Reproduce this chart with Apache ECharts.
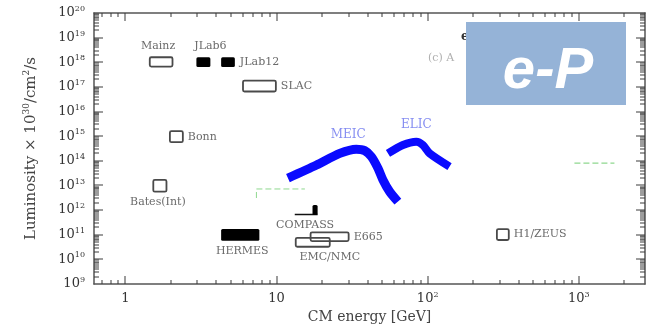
<!DOCTYPE html>
<html><head><meta charset="utf-8">
<script src="https://cdn.jsdelivr.net/npm/echarts@6/dist/echarts.min.js"></script>
<style>html,body{margin:0;padding:0;background:#fff}#c{width:650px;height:330px}</style>
</head><body><div id="c"></div>
<script>
// ---- axis ranges / ticks ----
const X_MIN = 0.62, X_MAX = 2740;
const Y_MIN = 1e9, Y_MAX = 1e20;
const xMajorTicks = [1, 10, 100, 1000];
const xMinorTicks = [0.7, 0.8, 0.9, 2, 3, 4, 5, 6, 7, 8, 9, 20, 30, 40, 50, 60, 70, 80, 90,
  200, 300, 400, 500, 600, 700, 800, 900, 2000];
const yMajorTicks = [1e9, 1e10, 1e11, 1e12, 1e13, 1e14, 1e15, 1e16, 1e17, 1e18, 1e19, 1e20];
const yMinorTicks = [];
for (let e = 9; e < 20; e++) for (let m = 2; m <= 9; m++) yMinorTicks.push(m * Math.pow(10, e));

// ---- experiments (boxes) ----
const expNames = ['Mainz', 'JLab6', 'JLab12', 'SLAC', 'Bonn', 'Bates(Int)', 'HERMES', 'COMPASS', 'E665', 'EMC/NMC', 'H1/ZEUS'];
const expEnergyLow  = [1.45, 2.95, 4.3, 6.0, 1.97, 1.53, 4.3, 17.3, 16.8, 13.4, 287];
const expEnergyHigh = [2.05, 3.65, 5.3, 9.9, 2.4, 1.87, 7.7, 18.7, 30, 22.5, 344];
const expLumiLow    = [6.7e17, 6.4e17, 6.4e17, 6.5e16, 5.7e14, 5.6e12, 5.7e10, 6.3e11, 5.5e10, 3.25e10, 6.1e10];
const expLumiHigh   = [1.6e18, 1.6e18, 1.6e18, 1.8e17, 1.6e15, 1.67e13, 1.7e11, 1.6e12, 1.25e11, 7.5e10, 1.7e11];

// COMPASS baseline
const compassLineEnergy = [13.2, 18.7];
const compassLineLumi = [6.6e11, 6.6e11];

// ---- MEIC / ELIC ----
const meicEnergy = [11.9, 18.4, 26.2, 33.7, 38.3, 42.4, 46.9, 50.6, 56.0, 63.5];
const meicLumi   = [2.0e13, 6.8e13, 2.0e14, 2.96e14, 2.6e14, 1.48e14, 5.0e13, 1.67e13, 5.6e12, 2.2e12];
const elicEnergy = [54.6, 68.6, 84.1, 92.9, 103, 139.5];
const elicLumi   = [2.0e14, 4.4e14, 6.0e14, 4.4e14, 2.0e14, 5.8e13];

// ---- faint green dashed traces ----
const greenAEnergy = [7.36, 7.36, 15.4];
const greenALumi   = [3.1e12, 7.2e12, 7.2e12];
const greenBEnergy = [935, 1720];
const greenBLumi   = [8.0e13, 8.0e13];

// ---- styles / layout (not data) ----
const expFilled = [false, true, true, false, false, false, true, true, false, false, false];
const expLabelLayout = [
  {pos: 'top', dx: -3}, {pos: 'top', dx: 7}, {pos: 'right'}, {pos: 'right'}, {pos: 'right'},
  {pos: 'bottom', dx: -2}, {pos: 'bottom', dx: 2}, {pos: 'bottom', dx: -10}, {pos: 'right'},
  {pos: 'bottom', dx: 17}, {pos: 'right'}
];

const SERIF = '"DejaVu Serif", "Liberation Serif", serif';
const AX = '#555';
const TICK = '#3a3a3a';
const MID_X = 30, MID_Y = 1e14; // interior anchor for the perpendicular coordinate of tick marks

function supLabel(v, isX) {
  const n = Math.round(Math.log10(v));
  if (isX && n === 0) return '{b|1}';
  if (isX && n === 1) return '{b|10}';
  return '{b|10}{s|' + n + '}';
}
const tickRich = {
  b: {fontFamily: SERIF, fontSize: 13, color: '#333', lineHeight: 16, verticalAlign: 'middle'},
  s: {fontFamily: SERIF, fontSize: 8, color: '#333', lineHeight: 9, verticalAlign: 'top'}
};

function mkX(pos, main) {
  return {
    type: 'log', logBase: 10, min: X_MIN, max: X_MAX, position: pos, gridIndex: 0,
    splitLine: {show: false}, minorTick: {show: false}, nameMoveOverlap: false,
    axisLine: {show: true, onZero: false, lineStyle: {color: AX, width: 1.5}},
    axisTick: {show: false},
    axisLabel: main ? {show: true, customValues: xMajorTicks, margin: 7,
      formatter: v => supLabel(v, true), rich: tickRich} : {show: false},
    name: main ? 'CM energy [GeV]' : '', nameLocation: 'middle', nameGap: 26,
    nameTextStyle: {fontFamily: SERIF, fontSize: 14, color: '#444'}
  };
}
function mkY(pos, main) {
  return {
    type: 'log', logBase: 10, min: Y_MIN, max: Y_MAX, position: pos, gridIndex: 0,
    splitLine: {show: false}, minorTick: {show: false}, nameMoveOverlap: false,
    axisLine: {show: true, onZero: false, lineStyle: {color: AX, width: 1.5}},
    axisTick: {show: false},
    axisLabel: main ? {show: true, customValues: yMajorTicks, margin: 9,
      formatter: v => supLabel(v, false), rich: tickRich} : {show: false},
    name: main ? '{n|Luminosity × 10}{s|30}{n|/cm}{s|2}{n|/s}' : '',
    nameLocation: 'middle', nameGap: 53,
    nameTextStyle: {rich: {
      n: {fontFamily: SERIF, fontSize: 15, color: '#444', lineHeight: 19, verticalAlign: 'middle'},
      s: {fontFamily: SERIF, fontSize: 9, color: '#444', lineHeight: 10, verticalAlign: 'top'}
    }}
  };
}

// tick marks as thin rects, placed with api.coord (interior anchors) and the grid rect
function tickSeries(vals, isX, len) {
  return {
    type: 'custom', xAxisIndex: 0, yAxisIndex: 0, z: 9, silent: true,
    data: vals.map(v => isX ? [v, MID_Y] : [MID_X, v]),
    encode: {x: 0, y: 1},
    renderItem: (params, api) => {
      const cs = params.coordSys;
      const p = api.coord([api.value(0), api.value(1)]);
      if (isX) {
        const x = Math.round(p[0]) - 0.5;
        return {type: 'group', children: [
          {type: 'rect', shape: {x: x, y: cs.y + cs.height - len, width: 1, height: len}, style: {fill: TICK}},
          {type: 'rect', shape: {x: x, y: cs.y, width: 1, height: len}, style: {fill: TICK}}
        ]};
      }
      const y = Math.round(p[1]) - 0.5;
      return {type: 'group', children: [
        {type: 'rect', shape: {x: cs.x, y: y, width: len, height: 1}, style: {fill: TICK}},
        {type: 'rect', shape: {x: cs.x + cs.width - len, y: y, width: len, height: 1}, style: {fill: TICK}}
      ]};
    }
  };
}

const chart = echarts.init(document.getElementById('c'), null, {renderer: 'canvas'});
chart.setOption({
  backgroundColor: '#fff',
  animation: false,
  grid: {left: 94, right: 5, top: 13, bottom: 46, containLabel: false, outerBoundsMode: 'none'},
  xAxis: [mkX('bottom', true), mkX('top', false)],
  yAxis: [mkY('left', true), mkY('right', false)],
  series: [
    tickSeries(xMajorTicks, true, 8),
    tickSeries(xMinorTicks, true, 4),
    tickSeries(yMajorTicks.slice(1, -1), false, 9),
    tickSeries(yMinorTicks, false, 5),
    {
      type: 'custom', xAxisIndex: 0, yAxisIndex: 0, z: 5,
      data: expNames.map((nm, i) => [expEnergyLow[i], expEnergyHigh[i], expLumiLow[i], expLumiHigh[i]]),
      encode: {x: [0, 1], y: [2, 3]},
      renderItem: (params, api) => {
        const i = params.dataIndex;
        const p1 = api.coord([api.value(0), api.value(3)]);
        const p2 = api.coord([api.value(1), api.value(2)]);
        const w = p2[0] - p1[0], h = p2[1] - p1[1];
        const L = expLabelLayout[i];
        let tx, ty, align;
        if (L.pos === 'top') { tx = p1[0] + w / 2 + (L.dx || 0); ty = p1[1] - 11; align = 'center'; }
        else if (L.pos === 'bottom') { tx = p1[0] + w / 2 + (L.dx || 0); ty = p2[1] + 10; align = 'center'; }
        else { tx = p2[0] + 5; ty = p1[1] + h / 2; align = 'left'; }
        return {
          type: 'group',
          children: [
            {type: 'rect', shape: {x: p1[0], y: p1[1], width: w, height: h, r: 1.5},
              style: expFilled[i] ? {fill: '#000'} : {fill: 'none', stroke: '#4a4a4a', lineWidth: 1.8}},
            {type: 'text', style: {x: tx, y: ty, text: expNames[i], fill: '#6a6a6a',
              fontFamily: SERIF, fontSize: 11, align: align, verticalAlign: 'middle'}}
          ]
        };
      }
    },
    {
      type: 'line', xAxisIndex: 0, yAxisIndex: 0, symbol: 'none', z: 4,
      data: compassLineEnergy.map((x, i) => [x, compassLineLumi[i]]),
      lineStyle: {color: '#111', width: 1.6}
    },
    {
      type: 'line', xAxisIndex: 0, yAxisIndex: 0, symbol: 'none', z: 3,
      data: greenAEnergy.map((x, i) => [x, greenALumi[i]]),
      lineStyle: {color: '#8fd88f', width: 1, type: [6, 3]}
    },
    {
      type: 'line', xAxisIndex: 0, yAxisIndex: 0, symbol: 'none', z: 3,
      data: greenBEnergy.map((x, i) => [x, greenBLumi[i]]),
      lineStyle: {color: '#8fd88f', width: 1.2, type: [6, 3]}
    },
    {
      type: 'line', xAxisIndex: 0, yAxisIndex: 0, symbol: 'none', smooth: 0.25, z: 6,
      data: meicEnergy.map((x, i) => [x, meicLumi[i]]),
      lineStyle: {color: '#0a0aff', width: 9, join: 'round', cap: 'butt'}
    },
    {
      type: 'line', xAxisIndex: 0, yAxisIndex: 0, symbol: 'none', smooth: 0.25, z: 6,
      data: elicEnergy.map((x, i) => [x, elicLumi[i]]),
      lineStyle: {color: '#0a0aff', width: 8, join: 'round', cap: 'butt'}
    },
    {
      type: 'scatter', xAxisIndex: 0, yAxisIndex: 0, symbolSize: 1, z: 7,
      itemStyle: {color: 'rgba(0,0,0,0)'},
      data: [
        {value: [meicEnergy[3], meicLumi[3]], label: {formatter: 'MEIC', offset: [-8, -14]}},
        {value: [elicEnergy[2], elicLumi[2]], label: {formatter: 'ELIC', offset: [0, -17]}}
      ],
      label: {show: true, position: 'inside', color: '#6670ee', fontFamily: SERIF, fontSize: 12}
    }
  ],
  graphic: [
    {type: 'text', left: 428, top: 53, z: 10,
      style: {text: '(c) A', fill: '#b0b0b0', fontFamily: SERIF, fontSize: 11}},
    {type: 'text', left: 461, top: 31, z: 10,
      style: {text: 'e', fill: '#333', fontFamily: SERIF, fontSize: 12, fontWeight: 'bold'}},
    {type: 'rect', left: 466, top: 22, z: 20,
      shape: {width: 160, height: 83}, style: {fill: '#95b3d7'}},
    {type: 'text', z: 21, x: 548, y: 72,
      style: {text: 'e-P', fill: '#fff', fontFamily: '"Liberation Sans", Arial, sans-serif',
        fontSize: 58, fontWeight: 'bold', fontStyle: 'italic', align: 'center', verticalAlign: 'middle'}}
  ]
});
</script>
</body></html>
